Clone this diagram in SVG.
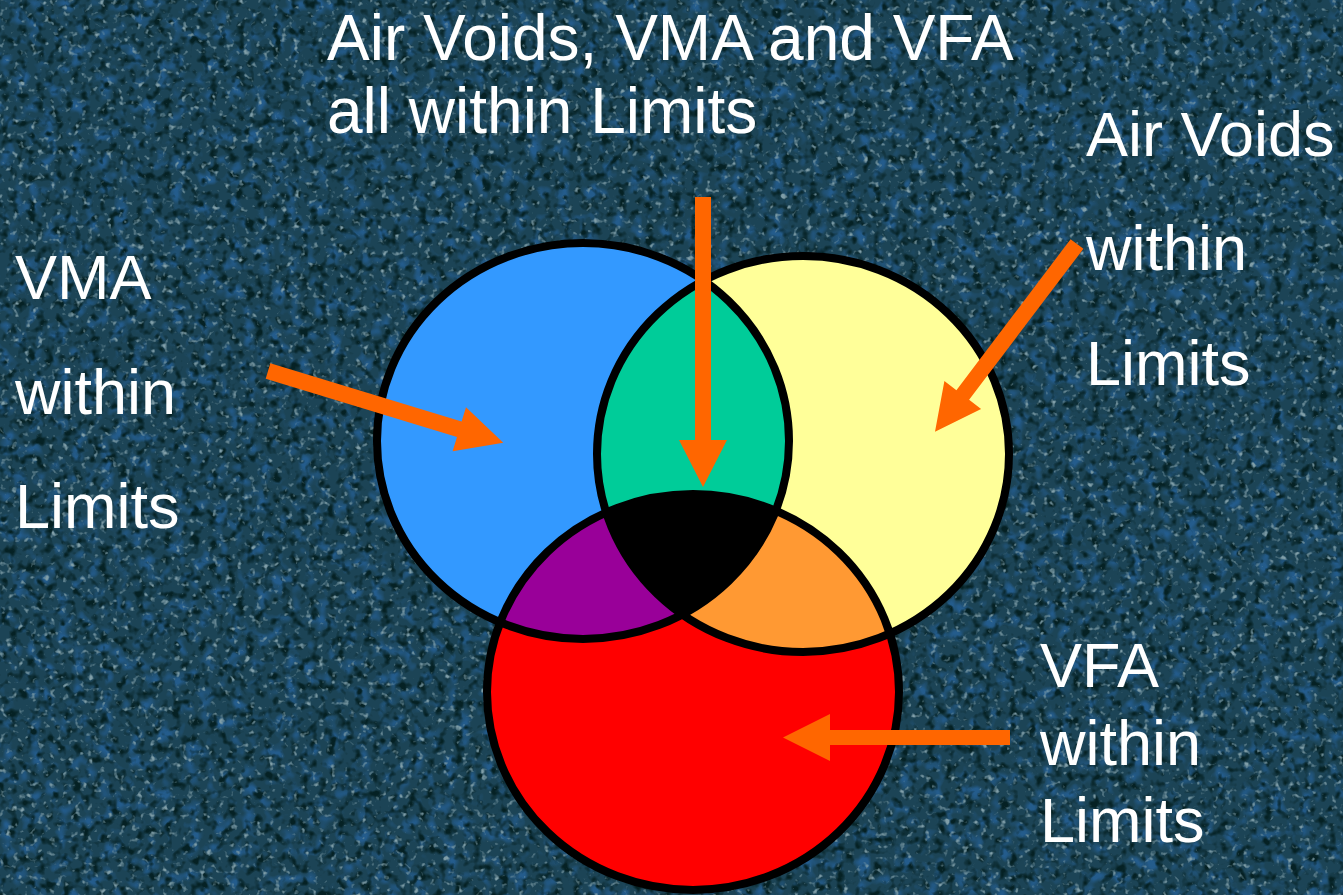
<svg xmlns="http://www.w3.org/2000/svg" width="1343" height="895" viewBox="0 0 1343 895">
  <style>
    .lbl { font-family: "Liberation Sans", Arial, sans-serif; font-size: 63px; fill: #ffffff; }
    .lbl-top { font-size: 64px; }
    .ring { fill: none; stroke: #000000; stroke-width: 8; }
    .arrow { fill: #ff6600; stroke: none; }
  </style>
  <defs>
    <filter id="asphalt" filterUnits="userSpaceOnUse" x="0" y="0" width="1343" height="895" color-interpolation-filters="sRGB">
      <feFlood flood-color="#1c4456" result="base"/>
      <feTurbulence type="fractalNoise" baseFrequency="0.07" numOctaves="2" seed="41" result="n3"/>
      <feColorMatrix in="n3" type="matrix" values="0 0 0 0 0.14  0 0 0 0 0.36  0 0 0 0 0.55  3.5 0 0 0 -1.75" result="blue"/>
      <feTurbulence type="fractalNoise" baseFrequency="0.11" numOctaves="2" seed="19" result="n2"/>
      <feColorMatrix in="n2" type="matrix" values="0 0 0 0 0.02  0 0 0 0 0.13  0 0 0 0 0.14  4 0 0 0 -2.0" result="dark"/>
      <feTurbulence type="fractalNoise" baseFrequency="0.16" numOctaves="2" seed="7" result="n1"/>
      <feColorMatrix in="n1" type="matrix" values="0 0 0 0 0.50  0 0 0 0 0.62  0 0 0 0 0.66  4.5 0 0 0 -2.75" result="light"/>
      <feMerge>
        <feMergeNode in="base"/>
        <feMergeNode in="blue"/>
        <feMergeNode in="dark"/>
        <feMergeNode in="light"/>
      </feMerge>
      <feGaussianBlur stdDeviation="0.6"/>
    </filter>
    <ellipse id="cVMA" cx="583" cy="441" rx="206" ry="198"/>
    <ellipse id="cAV" cx="803" cy="454" rx="206" ry="198"/>
    <ellipse id="cVFA" cx="693" cy="692" rx="206" ry="198"/>
    <clipPath id="clipVMA"><use href="#cVMA"/></clipPath>
    <clipPath id="clipAV"><use href="#cAV"/></clipPath>
  </defs>

  <rect id="background" x="0" y="0" width="1343" height="895" fill="#1c4456" filter="url(#asphalt)"/>

  <g id="set-vma"><use href="#cVMA" fill="#3399ff"/></g>
  <g id="set-air-voids"><use href="#cAV" fill="#ffff99"/></g>
  <g id="set-vfa"><use href="#cVFA" fill="#ff0000"/></g>

  <g id="overlap-vma-av" clip-path="url(#clipVMA)"><use href="#cAV" fill="#00cc99"/></g>
  <g id="overlap-vma-vfa" clip-path="url(#clipVMA)"><use href="#cVFA" fill="#990099"/></g>
  <g id="overlap-av-vfa" clip-path="url(#clipAV)"><use href="#cVFA" fill="#ff9933"/></g>
  <g id="overlap-all" clip-path="url(#clipVMA)"><g clip-path="url(#clipAV)"><use href="#cVFA" fill="#000000"/></g></g>

  <g id="outlines">
    <use href="#cVMA" class="ring"/>
    <use href="#cAV" class="ring"/>
    <use href="#cVFA" class="ring"/>
  </g>

  <g id="connectors">
    <polygon class="arrow" points="695,197 711,197 711,440 727,440 703,487 679,440 695,440"/>
    <polygon class="arrow" points="270.3,363.3 461.6,421.6 466,407.3 503.3,442.7 452.6,451.3 457,437 265.7,378.7"/>
    <polygon class="arrow" points="1083.4,248.8 969.1,399.8 981.1,408.9 935,431.7 944.4,381.1 956.4,390.2 1070.6,239.2"/>
    <polygon class="arrow" points="1010,730 830,730 830,714 783,737.5 830,761 830,745 1010,745"/>
  </g>

  <g id="label-all">
    <text class="lbl lbl-top" x="327" y="60">Air Voids, VMA and VFA</text>
    <text class="lbl lbl-top" x="327" y="133">all within Limits</text>
  </g>
  <g id="label-air-voids">
    <text class="lbl" x="1086" y="156">Air Voids</text>
    <text class="lbl" x="1086" y="270">within</text>
    <text class="lbl" x="1086" y="385">Limits</text>
  </g>
  <g id="label-vma">
    <text class="lbl" x="15" y="299">VMA</text>
    <text class="lbl" x="15" y="414">within</text>
    <text class="lbl" x="15" y="528">Limits</text>
  </g>
  <g id="label-vfa">
    <text class="lbl" x="1040" y="687">VFA</text>
    <text class="lbl" x="1040" y="765">within</text>
    <text class="lbl" x="1040" y="842">Limits</text>
  </g>
</svg>
